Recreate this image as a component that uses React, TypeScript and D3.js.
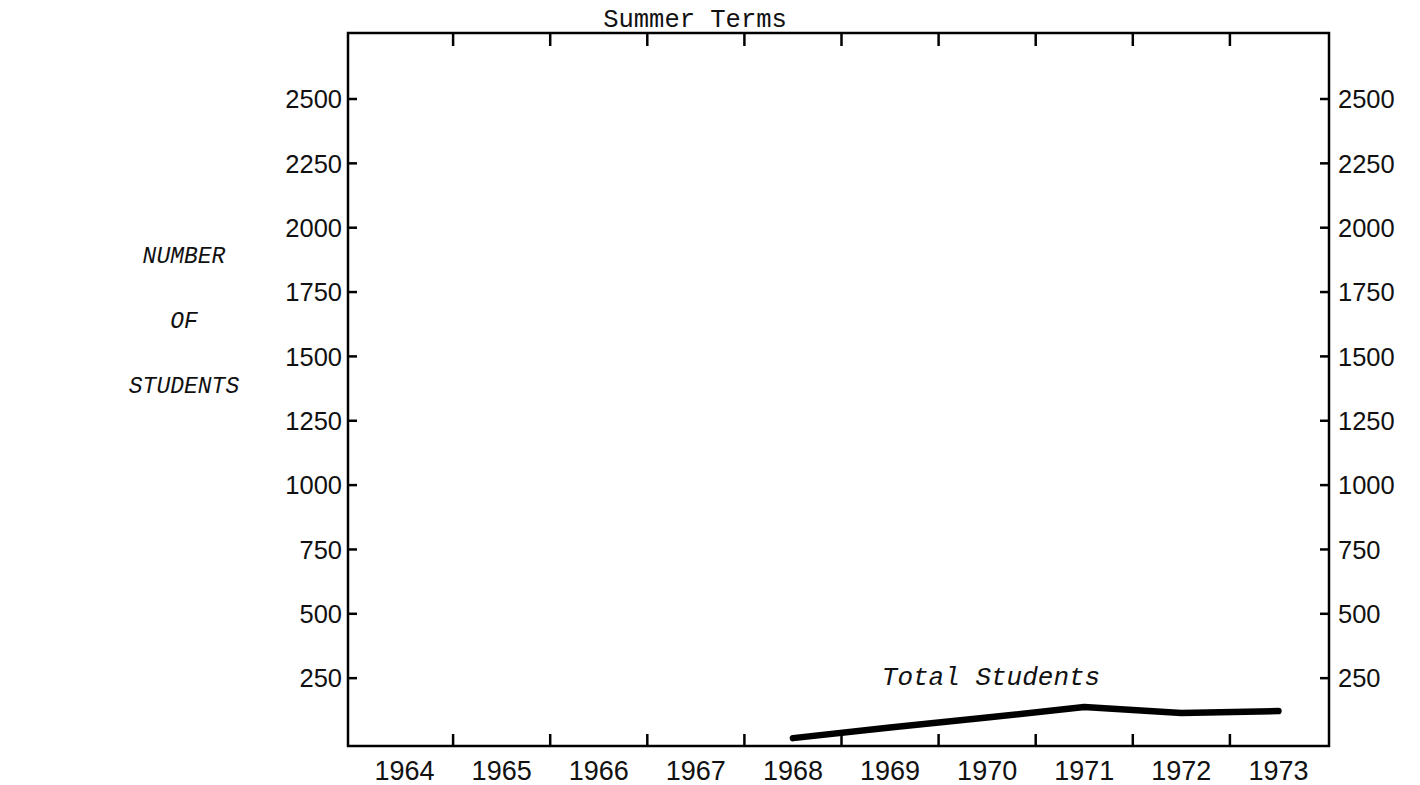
import React from "react";
import * as d3 from "d3";

const years = [1964, 1965, 1966, 1967, 1968, 1969, 1970, 1971, 1972, 1973];
const yTicks = [250, 500, 750, 1000, 1250, 1500, 1750, 2000, 2250, 2500];
const lineYears = [1968, 1969, 1970, 1971, 1972, 1973];
const totalStudents = [17, 58, 97, 138, 115, 122];
const title = "Summer Terms";
const yLabelLines = ["NUMBER", "OF", "STUDENTS"];
const seriesLabel = "Total Students";

const W = 1420;
const H = 785;
const frame = { left: 348, right: 1329, top: 33, bottom: 746 };

export default function App() {
  const x = d3.scaleBand<number>().domain(years).range([356, 1327]).paddingInner(0).paddingOuter(0);
  const y = d3.scaleLinear().domain([0, 2500]).range([742.5, 99]);
  const xc = (yr: number) => (x(yr) as number) + x.bandwidth() / 2;
  const line = d3
    .line<number>()
    .x((_, i) => xc(lineYears[i]))
    .y((v) => y(v))
    .curve(d3.curveLinear);
  const boundaries = years.slice(1).map((yr) => x(yr) as number);
  const tickFont = "'Liberation Sans', Arial, sans-serif";
  const monoFont = "'Liberation Mono', 'Courier New', monospace";
  return (
    <svg width={W} height={H} style={{ position: "absolute", left: 0, top: 0, background: "#fff" }}>
      <rect x={0} y={0} width={W} height={H} fill="#fff" />
      <text x={695} y={27} textAnchor="middle" fontFamily={monoFont} fontSize={25.5} fill="#111">
        {title}
      </text>
      <rect
        x={frame.left}
        y={frame.top}
        width={frame.right - frame.left}
        height={frame.bottom - frame.top}
        fill="none"
        stroke="#000"
        strokeWidth={2.5}
      />
      {boundaries.map((bx, i) => (
        <g key={"xt" + i}>
          <line x1={bx} x2={bx} y1={frame.top} y2={frame.top + 13} stroke="#000" strokeWidth={2.5} />
          <line x1={bx} x2={bx} y1={frame.bottom} y2={frame.bottom - 12} stroke="#000" strokeWidth={2.5} />
        </g>
      ))}
      {years.map((yr) => (
        <text
          key={"xl" + yr}
          x={xc(yr)}
          y={780}
          textAnchor="middle"
          fontFamily={tickFont}
          fontSize={27}
          fill="#111"
        >
          {yr}
        </text>
      ))}
      {yTicks.map((v) => (
        <g key={"yt" + v}>
          <line x1={frame.left} x2={frame.left + 9} y1={y(v)} y2={y(v)} stroke="#000" strokeWidth={2.5} />
          <line x1={frame.right} x2={frame.right - 9} y1={y(v)} y2={y(v)} stroke="#000" strokeWidth={2.5} />
          <text
            x={342}
            y={y(v)}
            dy="0.36em"
            textAnchor="end"
            fontFamily={tickFont}
            fontSize={25.5}
            fill="#111"
          >
            {v}
          </text>
          <text
            x={1338}
            y={y(v)}
            dy="0.36em"
            textAnchor="start"
            fontFamily={tickFont}
            fontSize={25.5}
            fill="#111"
          >
            {v}
          </text>
        </g>
      ))}
      {yLabelLines.map((s, i) => (
        <text
          key={"yl" + i}
          x={184}
          y={263 + i * 65}
          textAnchor="middle"
          fontFamily={monoFont}
          fontStyle="italic"
          fontSize={23}
          fill="#111"
        >
          {s}
        </text>
      ))}
      <text x={991} y={685} textAnchor="middle" fontFamily={monoFont} fontStyle="italic" fontSize={26} fill="#111">
        {seriesLabel}
      </text>
      <path
        d={line(totalStudents) || ""}
        fill="none"
        stroke="#000"
        strokeWidth={6.5}
        strokeLinecap="round"
        strokeLinejoin="round"
      />
    </svg>
  );
}
